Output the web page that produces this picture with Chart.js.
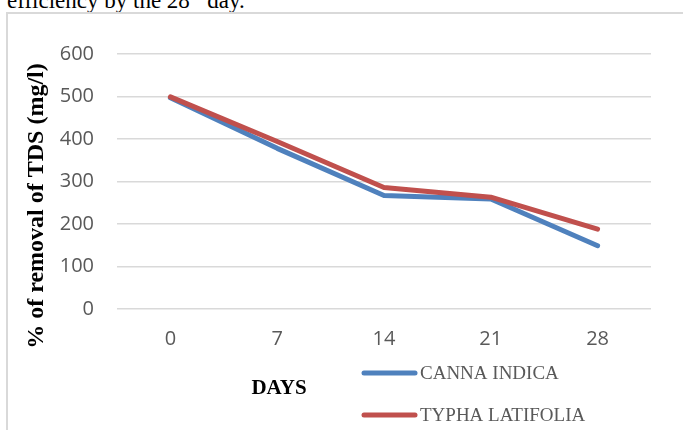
<!DOCTYPE html>
<html>
<head>
<meta charset="utf-8">
<script src="https://cdn.jsdelivr.net/npm/chart.js@4/dist/chart.umd.min.js"></script>
<style>
  html, body { margin: 0; padding: 0; background: #fff; overflow: hidden; }
  body { width: 683px; height: 430px; position: relative; }
  #lead {
    position: absolute; left: 7px; top: -14px; margin: 0;
    font: 23px "Liberation Serif", "Times New Roman", serif; color: #000; white-space: nowrap;
  }
  #frame {
    position: absolute; left: 6px; top: 12px; width: 677px; height: 418px;
    border-left: 2px solid #d9d9d9; border-top: 2px solid #d9d9d9; box-sizing: border-box;
  }
  #wrap { position: absolute; left: 8px; top: 14px; width: 675px; height: 416px; }
</style>
</head>
<body>
<p id="lead">efficiency by the 28<sup style="font-size:15px">th</sup> day.</p>
<div id="frame"></div>
<div id="wrap"><canvas id="chart"></canvas></div>
<script>
// Chart values
const days = ['0', '7', '14', '21', '28'];
const cannaIndica = [497, 378, 267, 259, 149];
const typhaLatifolia = [499, 394, 286, 263, 188];
const seriesNames = ['CANNA INDICA', 'TYPHA LATIFOLIA'];
const seriesColors = ['#4F81BD', '#C0504D'];
const yTitle = '% of removal of TDS (mg/l)';
const xTitle = 'DAYS';

// Draws the axis titles and the stacked legend the way the original places them
const titlesAndLegend = {
  id: 'titlesAndLegend',
  afterDraw(chart) {
    const ctx = chart.ctx;
    const area = chart.chartArea;
    ctx.save();

    // y axis title
    ctx.fillStyle = '#000';
    ctx.font = 'bold 24px "Liberation Serif", "Times New Roman", serif';
    ctx.textAlign = 'center';
    ctx.textBaseline = 'middle';
    ctx.translate(29, 192);
    ctx.rotate(-Math.PI / 2);
    ctx.fillText(yTitle, 0, 0);
    ctx.setTransform(1, 0, 0, 1, 0, 0);

    // x axis title
    ctx.font = 'bold 21px "Liberation Serif", "Times New Roman", serif';
    ctx.fillText(xTitle, 271, area.bottom + 80);

    // legend, one entry per row
    ctx.font = '19px "Liberation Serif", "Times New Roman", serif';
    ctx.textAlign = 'left';
    chart.data.datasets.forEach((ds, i) => {
      const y = area.bottom + 64 + i * 42;
      ctx.strokeStyle = ds.borderColor;
      ctx.lineWidth = 5;
      ctx.lineCap = 'round';
      ctx.beginPath();
      ctx.moveTo(356, y);
      ctx.lineTo(407, y);
      ctx.stroke();
      ctx.fillStyle = '#595959';
      ctx.fillText(ds.label, 412, y + 1);
    });
    ctx.restore();
  }
};

new Chart(document.getElementById('chart'), {
  type: 'line',
  data: {
    labels: days,
    datasets: [
      { label: seriesNames[0], data: cannaIndica, borderColor: seriesColors[0], order: 1 },
      { label: seriesNames[1], data: typhaLatifolia, borderColor: seriesColors[1], order: 0 }
    ]
  },
  options: {
    responsive: true,
    maintainAspectRatio: false,
    animation: false,
    layout: { padding: { left: 0, right: 32, top: 40, bottom: 0 } },
    elements: {
      line: { borderWidth: 5, tension: 0, borderCapStyle: 'round', borderJoinStyle: 'round' },
      point: { radius: 0, hoverRadius: 0 }
    },
    plugins: {
      legend: { display: false },
      tooltip: { enabled: false }
    },
    scales: {
      x: {
        offset: true,
        grid: { display: false, drawTicks: false },
        border: { display: false },
        ticks: { color: '#595959', padding: 18, font: { family: '"Open Sans"', size: 20 } },
        afterFit(scale) { scale.height = 121; }
      },
      y: {
        min: 0,
        max: 600,
        grid: { color: '#d9d9d9', lineWidth: 1.5, drawTicks: false },
        border: { display: false },
        ticks: { stepSize: 100, color: '#595959', padding: 23, font: { family: '"Open Sans"', size: 20 } },
        afterFit(scale) { scale.width = 109; }
      }
    }
  },
  plugins: [titlesAndLegend]
});
</script>
</body>
</html>
